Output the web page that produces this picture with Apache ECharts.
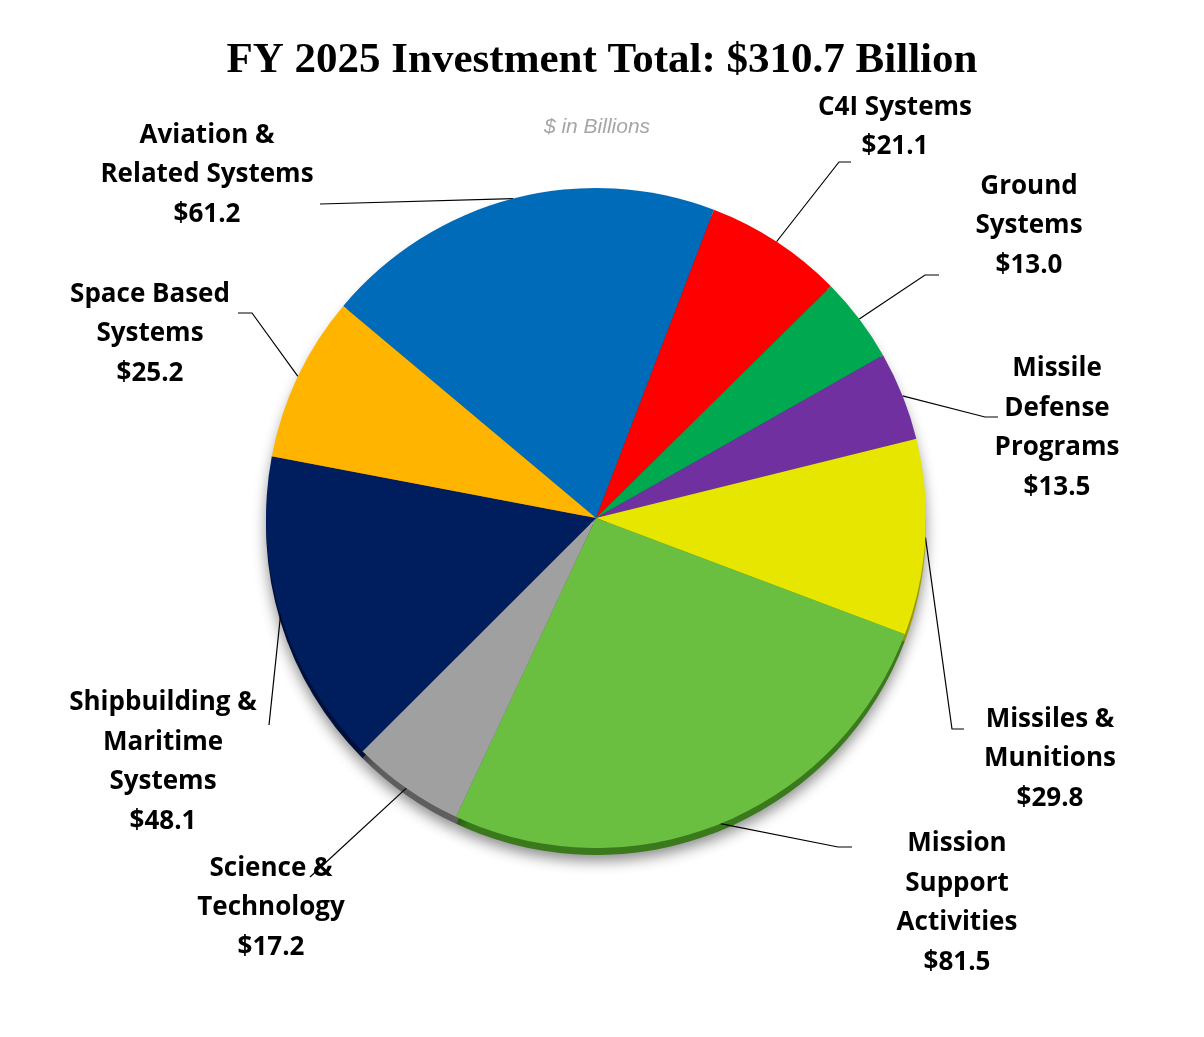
<!DOCTYPE html>
<html>
<head>
<meta charset="utf-8">
<script src="https://cdn.jsdelivr.net/npm/echarts@6/dist/echarts.min.js"></script>
<style>
html,body{margin:0;padding:0;background:#fff;}
#chart{width:1204px;height:1037px;}
</style>
</head>
<body>
<div id="chart"></div>
<script>
// ---- data ----
const categories = [
  'Aviation &\nRelated Systems',
  'C4I Systems',
  'Ground\nSystems',
  'Missile\nDefense\nPrograms',
  'Missiles &\nMunitions',
  'Mission\nSupport\nActivities',
  'Science &\nTechnology',
  'Shipbuilding &\nMaritime\nSystems',
  'Space Based\nSystems'
];
const values = [61.2, 21.1, 13.0, 13.5, 29.8, 81.5, 17.2, 48.1, 25.2];
const colors = ['#006BB8', '#FF0000', '#00A84F', '#7030A0', '#E6E600', '#6BBF40', '#A0A0A0', '#001E5E', '#FFB400'];
const rimColors = ['#004a80', '#b00000', '#007035', '#4a1f6b', '#9a9a00', '#3a7a1c', '#5e5e5e', '#00103a', '#b07c00'];
const titleText = 'FY 2025 Investment Total: $310.7 Billion';
const subtitleText = '$ in Billions';

// ---- layout (label centres and leader-line elbow/end offsets from label centre) ----
const labelPos = [
  [207, 175], [895, 127], [1029, 226], [1057, 428], [1050, 759],
  [957, 903], [271, 908], [163, 762], [150, 334]
];
const lineElbow = [
  [113, 29], [-56, 35], [-104, 49], [-72, -11], [-98, -30],
  [-119, -56], [39, -31], [106, -37], [102, -21]
];
const lineEnd = [
  [113, 29], [-44, 35], [-90, 49], [-59, -11], [-86, -30],
  [-105, -56], [39, -31], [106, -37], [88, -21]
];

const chart = echarts.init(document.getElementById('chart'));
const mainData = categories.map((c, i) => ({ name: c, value: values[i], itemStyle: { color: colors[i] } }));
const rimData = categories.map((c, i) => ({ name: c, value: values[i], itemStyle: { color: rimColors[i] } }));

chart.setOption({
  animation: false,
  backgroundColor: '#ffffff',
  title: [{
    text: titleText,
    left: 'center',
    top: 34,
    textStyle: { fontFamily: 'Liberation Serif', fontWeight: 'bold', fontSize: 43, color: '#000' }
  }, {
    text: subtitleText,
    left: 592,
    textAlign: 'center',
    top: 112,
    textStyle: { fontFamily: 'Liberation Sans', fontStyle: 'italic', fontWeight: 'normal', fontSize: 21, color: '#A6A6A6' }
  }],
  series: [{
    type: 'pie',
    silent: true,
    center: [596, 525],
    radius: 330,
    startAngle: 140,
    clockwise: true,
    label: { show: false },
    labelLine: { show: false },
    itemStyle: { shadowBlur: 14, shadowColor: 'rgba(0,0,0,0.45)', shadowOffsetY: 6 },
    data: rimData,
    z: 1
  }, {
    type: 'pie',
    center: [596, 518],
    radius: 330,
    startAngle: 140,
    clockwise: true,
    data: mainData,
    z: 2,
    label: {
      show: true,
      formatter: p => p.name + '\n$' + p.value.toFixed(1),
      fontFamily: 'Open Sans',
      fontWeight: 'bold',
      fontSize: 26,
      lineHeight: 39.5,
      color: '#000',
      align: 'center'
    },
    labelLine: {
      show: true,
      length: 12,
      length2: 12,
      lineStyle: { color: '#000', width: 1.2 }
    },
    labelLayout: function (params) {
      const i = params.dataIndex;
      const p = labelPos[i];
      const out = { x: p[0], y: p[1], align: 'center', verticalAlign: 'middle' };
      if (params.labelLinePoints && params.labelLinePoints[0]) {
        const s = params.labelLinePoints[0];
        out.labelLinePoints = [
          [s[0], s[1]],
          [p[0] + lineElbow[i][0], p[1] + lineElbow[i][1]],
          [p[0] + lineEnd[i][0], p[1] + lineEnd[i][1]]
        ];
      }
      return out;
    }
  }]
});
</script>
</body>
</html>
